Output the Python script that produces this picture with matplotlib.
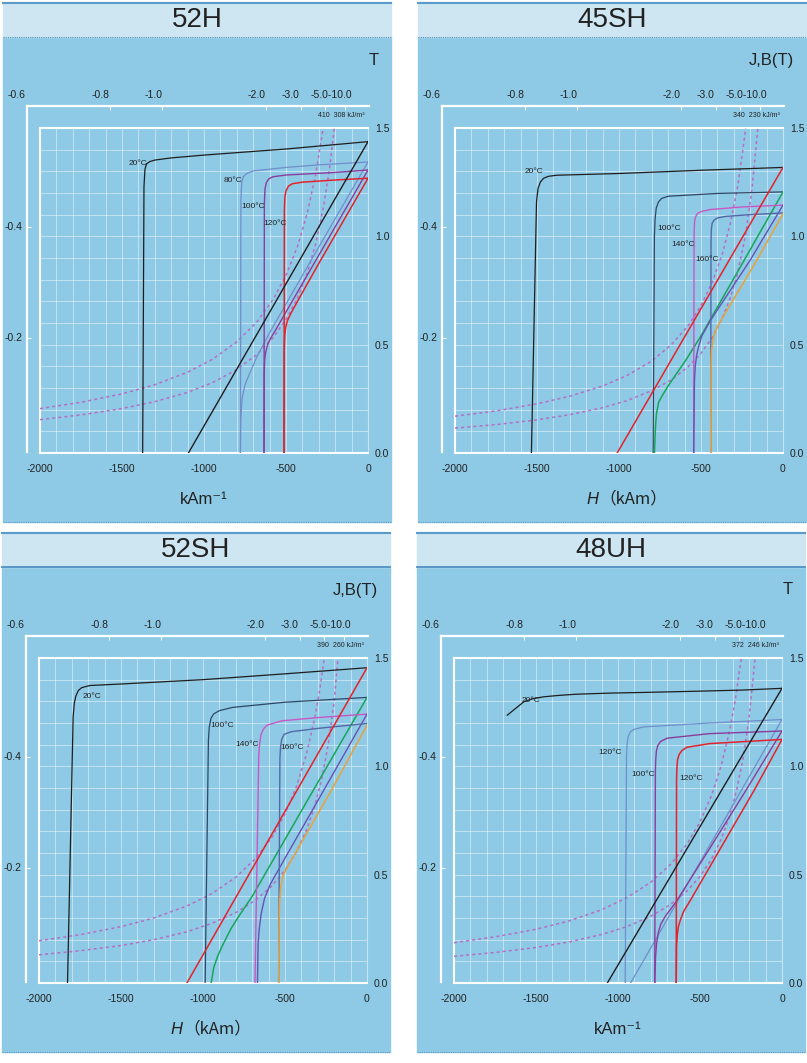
import matplotlib.pyplot as plt
from matplotlib.patches import Rectangle
from matplotlib.lines import Line2D

# ---------------- 52H ----------------
g52h_j20_h = [0, -500, -1000, -1200, -1300, -1330, -1350, -1360, -1366, -1370, -1374]
g52h_j20_b = [1.437, 1.403, 1.375, 1.362, 1.352, 1.345, 1.335, 1.31, 1.23, 0.6, 0.0]
g52h_b20_h = [0, -1095]
g52h_b20_b = [1.437, 0.0]
g52h_j80_h = [0, -300, -500, -700, -740, -760, -770, -775, -778]
g52h_j80_b = [1.343, 1.33, 1.318, 1.302, 1.29, 1.275, 1.25, 1.17, 0.0]
g52h_b80_h = [0, -400, -600, -680, -720, -750, -768, -776, -778]
g52h_b80_b = [1.343, 0.82, 0.555, 0.44, 0.37, 0.315, 0.25, 0.15, 0.0]
g52h_j100_h = [0, -200, -500, -580, -605, -620, -628, -632, -634]
g52h_j100_b = [1.306, 1.295, 1.283, 1.275, 1.265, 1.248, 1.22, 1.15, 0.0]
g52h_b100_h = [0, -400, -560, -595, -612, -624, -630, -633, -634]
g52h_b100_b = [1.306, 0.782, 0.572, 0.528, 0.5, 0.465, 0.43, 0.37, 0.0]
g52h_j120_h = [0, -200, -400, -460, -485, -500, -507, -510, -512]
g52h_j120_b = [1.268, 1.26, 1.25, 1.243, 1.232, 1.21, 1.18, 1.12, 0.0]
g52h_b120_h = [0, -300, -430, -470, -492, -503, -508, -511, -512]
g52h_b120_b = [1.268, 0.875, 0.7, 0.645, 0.61, 0.575, 0.54, 0.47, 0.0]
g52h_e1_h = [-2000, -1750, -1500, -1300, -1100, -950, -800, -680, -580, -500, -430, -370, -320, -273]
g52h_e1_b = [0.205, 0.234, 0.273, 0.315, 0.373, 0.432, 0.513, 0.603, 0.707, 0.82, 0.953, 1.108, 1.281, 1.502]
g52h_e2_h = [-2000, -1750, -1500, -1300, -1100, -950, -800, -680, -580, -500, -430, -370, -320, -270, -235, -205]
g52h_e2_b = [0.154, 0.176, 0.205, 0.237, 0.28, 0.324, 0.385, 0.453, 0.531, 0.616, 0.716, 0.832, 0.963, 1.141, 1.311, 1.502]
g52h_temps = ['20°C', '80°C', '100°C', '120°C']
g52h_temp_h = [-1402, -826, -701, -567]
g52h_temp_b = [1.334, 1.259, 1.14, 1.06]

# ---------------- 45SH ----------------
g45sh_j20_h = [0, -500, -1000, -1380, -1430, -1460, -1480, -1494, -1503, -1534]
g45sh_j20_b = [1.318, 1.305, 1.29, 1.282, 1.277, 1.268, 1.25, 1.22, 1.16, 0.0]
g45sh_b20_h = [0, -1011]
g45sh_b20_b = [1.318, 0.0]
g45sh_j100_h = [0, -400, -700, -740, -760, -773, -780, -784, -792]
g45sh_j100_b = [1.205, 1.198, 1.185, 1.175, 1.158, 1.13, 1.08, 1.0, 0.0]
g45sh_b100_h = [0, -250, -505, -600, -646, -700, -740, -758, -772, -778, -784]
g45sh_b100_b = [1.205, 0.872, 0.534, 0.42, 0.37, 0.31, 0.26, 0.235, 0.179, 0.117, 0.0]
g45sh_j140_h = [0, -240, -440, -500, -522, -533, -539, -542, -545]
g45sh_j140_b = [1.144, 1.136, 1.124, 1.114, 1.105, 1.09, 1.07, 1.02, 0.0]
g45sh_b140_h = [0, -201, -444, -495, -515, -527, -535, -540, -544]
g45sh_b140_b = [1.144, 0.889, 0.61, 0.54, 0.49, 0.45, 0.40, 0.33, 0.0]
g45sh_j160_h = [0, -200, -350, -400, -420, -432, -437, -439, -441]
g45sh_j160_b = [1.108, 1.1, 1.092, 1.085, 1.075, 1.06, 1.03, 0.97, 0.0]
g45sh_b160_h = [0, -160, -380, -405, -420, -430, -436, -439, -441]
g45sh_b160_b = [1.105, 0.889, 0.61, 0.575, 0.545, 0.51, 0.47, 0.41, 0.0]
g45sh_e1_h = [-2000, -1750, -1500, -1300, -1100, -950, -800, -680, -580, -500, -430, -370, -320, -275, -227]
g45sh_e1_b = [0.17, 0.194, 0.227, 0.262, 0.309, 0.358, 0.425, 0.5, 0.586, 0.68, 0.791, 0.919, 1.063, 1.236, 1.498]
g45sh_e2_h = [-2000, -1750, -1500, -1300, -1100, -950, -800, -680, -580, -500, -430, -370, -320, -275, -230, -190, -153]
g45sh_e2_b = [0.115, 0.131, 0.153, 0.177, 0.209, 0.242, 0.288, 0.338, 0.397, 0.46, 0.535, 0.622, 0.719, 0.836, 1.0, 1.211, 1.503]
g45sh_temps = ['20°C', '100°C', '140°C', '160°C']
g45sh_temp_h = [-1521, -697, -608, -462]
g45sh_temp_b = [1.298, 1.038, 0.963, 0.892]

# ---------------- 52SH ----------------
g52sh_j20_h = [0, -500, -1000, -1500, -1690, -1740, -1760, -1775, -1785, -1792, -1826]
g52sh_j20_b = [1.455, 1.427, 1.40, 1.38, 1.373, 1.363, 1.35, 1.325, 1.29, 1.226, 0.0]
g52sh_b20_h = [0, -1098]
g52sh_b20_b = [1.455, 0.0]
g52sh_j100_h = [0, -500, -820, -900, -935, -952, -962, -967, -987]
g52sh_j100_b = [1.318, 1.296, 1.272, 1.257, 1.242, 1.22, 1.18, 1.12, 0.0]
g52sh_b100_h = [0, -350, -700, -780, -830, -880, -910, -935, -950]
g52sh_b100_b = [1.318, 0.86, 0.40, 0.31, 0.25, 0.175, 0.125, 0.07, 0.0]
g52sh_j140_h = [0, -300, -520, -610, -632, -647, -655, -660, -683]
g52sh_j140_b = [1.241, 1.225, 1.21, 1.19, 1.172, 1.145, 1.10, 1.05, 0.0]
g52sh_b140_h = [0, -250, -500, -590, -625, -645, -657, -664, -668]
g52sh_b140_b = [1.241, 0.908, 0.576, 0.455, 0.39, 0.32, 0.25, 0.18, 0.0]
g52sh_j160_h = [0, -300, -460, -505, -520, -527, -531, -539]
g52sh_j160_b = [1.198, 1.175, 1.16, 1.148, 1.125, 1.09, 1.04, 0.0]
g52sh_b160_h = [0, -220, -454, -494, -515, -527, -533, -536, -539]
g52sh_b160_b = [1.19, 0.886, 0.577, 0.523, 0.49, 0.44, 0.37, 0.30, 0.0]
g52sh_e1_h = [-2000, -1750, -1500, -1300, -1100, -950, -800, -680, -580, -500, -430, -370, -320, -290, -260]
g52sh_e1_b = [0.195, 0.223, 0.26, 0.3, 0.355, 0.411, 0.488, 0.574, 0.672, 0.78, 0.907, 1.054, 1.219, 1.345, 1.5]
g52sh_e2_h = [-2000, -1750, -1500, -1300, -1100, -950, -800, -680, -580, -500, -430, -370, -320, -275, -235, -200, -178]
g52sh_e2_b = [0.13, 0.149, 0.173, 0.2, 0.236, 0.274, 0.325, 0.382, 0.448, 0.52, 0.605, 0.703, 0.813, 0.945, 1.106, 1.3, 1.494]
g52sh_temps = ['20°C', '100°C', '140°C', '160°C']
g52sh_temp_h = [-1677, -883, -733, -456]
g52sh_temp_b = [1.321, 1.19, 1.102, 1.086]

# ---------------- 48UH ----------------
g48uh_j20_h = [-1675, -1620, -1574, -1520, -1453, -1350, -1250, -1050, -847, -500, -241, 0]
g48uh_j20_b = [1.236, 1.27, 1.298, 1.312, 1.321, 1.328, 1.333, 1.338, 1.341, 1.347, 1.352, 1.36]
g48uh_b20_h = [0, -1065]
g48uh_b20_b = [1.36, 0.0]
g48uh_ja_h = [0, -440, -845, -905, -925, -938, -945, -948, -956]
g48uh_ja_b = [1.216, 1.2, 1.182, 1.17, 1.158, 1.138, 1.10, 1.05, 0.0]
g48uh_ba_h = [0, -923]
g48uh_ba_b = [1.216, 0.0]
g48uh_j100_h = [0, -440, -700, -740, -758, -766, -770, -772, -776]
g48uh_j100_b = [1.163, 1.151, 1.13, 1.115, 1.095, 1.07, 1.03, 0.98, 0.0]
g48uh_b100_h = [0, -220, -450, -650, -710, -740, -755, -765, -771, -776]
g48uh_b100_b = [1.163, 0.889, 0.61, 0.37, 0.31, 0.27, 0.23, 0.18, 0.12, 0.0]
g48uh_j120_h = [0, -440, -580, -610, -627, -637, -641, -643, -645]
g48uh_j120_b = [1.124, 1.105, 1.088, 1.073, 1.055, 1.03, 0.99, 0.94, 0.0]
g48uh_b120_h = [0, -170, -560, -600, -620, -632, -639, -643, -645]
g48uh_b120_b = [1.124, 0.889, 0.38, 0.33, 0.29, 0.26, 0.22, 0.17, 0.0]
g48uh_e1_h = [-2000, -1750, -1500, -1300, -1100, -950, -800, -680, -580, -500, -430, -370, -320, -285, -248]
g48uh_e1_b = [0.186, 0.213, 0.248, 0.286, 0.338, 0.392, 0.465, 0.547, 0.641, 0.744, 0.865, 1.005, 1.163, 1.305, 1.5]
g48uh_e2_h = [-2000, -1750, -1500, -1300, -1100, -950, -800, -680, -580, -500, -430, -370, -320, -275, -235, -200, -164]
g48uh_e2_b = [0.123, 0.141, 0.164, 0.189, 0.224, 0.259, 0.308, 0.362, 0.424, 0.492, 0.572, 0.665, 0.769, 0.895, 1.047, 1.23, 1.5]
g48uh_temps = ['20°C', '120°C', '100°C', '120°C']
g48uh_temp_h = [-1530, -1047, -844, -552]
g48uh_temp_b = [1.306, 1.062, 0.962, 0.946]

# axis tick labels
x_ticks = [-2000, -1500, -1000, -500, 0]
y_ticks = [0.0, 0.5, 1.0, 1.5]
pc_labels = ['-0.6', '-0.8', '-1.0', '-2.0', '-3.0', '-5.0-10.0']
left_labels = ['-0.4', '-0.2']

# colours
bg = '#8ecae5'
hdr = '#cde6f1'
c_black = '#1e1e1e'
c_steel = '#6f8fca'
c_purple = '#8a3d9c'
c_red = '#e3232b'
c_navy = '#2c4866'
c_green = '#16a65a'
c_pink = '#c957c4'
c_violet = '#6553b5'
c_slate = '#5468a8'
c_orange = '#e9a23b'
c_dot = '#b46fc4'
txt = '#222222'

W, H = 807, 1063
plt.rcParams['font.family'] = ['Liberation Sans', 'DejaVu Sans']
fig = plt.figure(figsize=(W / 100, H / 100), dpi=100)
fig.patch.set_facecolor('white')


def fx(x):
    return x / W


def fy(y):
    return 1 - y / H


def px_axes(x, y, w, h):
    return fig.add_axes([fx(x), fy(y + h), w / W, h / H])


def draw_panel(pl, pt, title, unit, italic_h, solid_hdr, curves, dots, elabel, temps):
    pw, ph = 388, 520
    # backgrounds
    fig.add_artist(Rectangle((fx(pl), fy(pt + ph)), pw / W, (ph - 35) / H,
                             transform=fig.transFigure, color=bg, zorder=0))
    fig.add_artist(Rectangle((fx(pl), fy(pt + 35)), pw / W, 35 / H,
                             transform=fig.transFigure, color=hdr, zorder=0))
    fig.add_artist(Line2D([fx(pl), fx(pl + pw)], [fy(pt + 0.5)] * 2,
                          transform=fig.transFigure, color='#5b9bcb', lw=1.5))
    fig.add_artist(Line2D([fx(pl), fx(pl + pw)], [fy(pt + 35)] * 2,
                          transform=fig.transFigure, color='#4f8fc2',
                          lw=1.3 if solid_hdr else 0.8,
                          ls='-' if solid_hdr else (0, (1, 1))))
    fig.add_artist(Line2D([fx(pl), fx(pl + pw)], [fy(pt + ph)] * 2,
                          transform=fig.transFigure, color='#5a9bc9', lw=0.8, ls=(0, (1, 1))))
    fig.text(fx(pl + pw / 2), fy(pt + 18), title, ha='center', va='center',
             fontsize=20, color=txt)

    # outer permeance frame
    fa = px_axes(pl + 24, pt + 104, 342, 346)
    fa.patch.set_visible(False)
    fa.set_xlim(0, 1)
    fa.set_ylim(0, 1)
    for s in ['right', 'bottom']:
        fa.spines[s].set_visible(False)
    for s in ['top', 'left']:
        fa.spines[s].set_color('white')
        fa.spines[s].set_linewidth(1.6)
    fa.xaxis.tick_top()
    fa.set_xticks([0.243, 0.396, 0.698, 0.8, 0.87, 0.93])
    fa.set_yticks([0.65, 0.33])
    fa.tick_params(axis='both', direction='in', length=3, width=0.8, color='white',
                   labelleft=False, labeltop=False, labelbottom=False)
    for lab, xp in zip(pc_labels, [-0.032, 0.214, 0.37, 0.672, 0.771, 0.891]):
        fa.text(xp, 1.032, lab, transform=fa.transAxes, ha='center', va='center',
                fontsize=7.5, color=txt)
    for lab, yp in zip(left_labels, [0.65, 0.33]):
        fa.text(-0.012, yp, lab, transform=fa.transAxes, ha='right', va='center',
                fontsize=7.5, color=txt)

    # main B-H axes
    ax = px_axes(pl + 37, pt + 126, 328, 325)
    ax.patch.set_visible(False)
    ax.set_xlim(-2000, 0)
    ax.set_ylim(0, 1.5)
    ax.set_xticks(x_ticks)
    ax.set_xticklabels([str(v) for v in x_ticks])
    ax.set_xticks(range(-2000, 1, 100), minor=True)
    ax.yaxis.tick_right()
    ax.set_yticks(y_ticks)
    ax.set_yticklabels(['%.1f' % v for v in y_ticks])
    ax.set_yticks([i / 10 for i in range(16)], minor=True)
    ax.grid(which='both', color='white', alpha=0.45, lw=0.7)
    ax.tick_params(which='both', length=0, labelsize=7.5, colors=txt)
    ax.tick_params(axis='x', pad=8)
    ax.tick_params(axis='y', pad=5)
    for s in ['left', 'bottom', 'top']:
        ax.spines[s].set_color('white')
        ax.spines[s].set_linewidth(1.5)
    ax.spines['right'].set_color('white')
    ax.spines['right'].set_alpha(0.5)
    ax.spines['right'].set_linewidth(0.8)

    for hh, bb in dots:
        ax.plot(hh, bb, color=c_dot, lw=1.1, ls=(0, (2, 2)), zorder=3)
    for hh, bb, col, lw in curves:
        ax.plot(hh, bb, color=col, lw=lw, zorder=4, solid_joinstyle='round')
    ax.text(0.99, 1.037, elabel, transform=ax.transAxes, ha='right', va='center',
            fontsize=5, color=txt)
    names, th, tb = temps
    for n, hv, bv in zip(names, th, tb):
        ax.text(hv, bv, n, ha='center', va='center', fontsize=6, color=txt, zorder=5)

    # unit labels
    fig.text(fx(pl + 376), fy(pt + 58), unit, ha='right', va='center', fontsize=12, color=txt)
    if italic_h:
        fig.text(fx(pl + 180), fy(pt + 497), 'H', ha='right', va='center', fontsize=12,
                 style='italic', color=txt)
        fig.text(fx(pl + 181), fy(pt + 497), '（kAm）', ha='left', va='center', fontsize=12,
                 color=txt, family=['Noto Sans CJK SC', 'DejaVu Sans'])
    else:
        fig.text(fx(pl + 201), fy(pt + 497), 'kAm⁻¹', ha='center', va='center',
                 fontsize=12, color=txt)


draw_panel(3, 2, '52H', 'T', False, False,
           [(g52h_b80_h, g52h_b80_b, c_steel, 0.9),
            (g52h_j80_h, g52h_j80_b, c_steel, 0.9),
            (g52h_b100_h, g52h_b100_b, c_purple, 1.0),
            (g52h_j100_h, g52h_j100_b, c_purple, 1.0),
            (g52h_b120_h, g52h_b120_b, c_red, 1.1),
            (g52h_j120_h, g52h_j120_b, c_red, 1.1),
            (g52h_j20_h, g52h_j20_b, c_black, 0.9),
            (g52h_b20_h, g52h_b20_b, c_black, 1.0)],
           [(g52h_e1_h, g52h_e1_b), (g52h_e2_h, g52h_e2_b)],
           '410  308 kJ/m³', (g52h_temps, g52h_temp_h, g52h_temp_b))

draw_panel(418, 2, '45SH', 'J,B(T)', True, False,
           [(g45sh_j20_h, g45sh_j20_b, c_black, 0.9),
            (g45sh_j100_h, g45sh_j100_b, c_navy, 0.9),
            (g45sh_b100_h, g45sh_b100_b, c_green, 1.1),
            (g45sh_j140_h, g45sh_j140_b, c_pink, 1.0),
            (g45sh_b140_h, g45sh_b140_b, c_violet, 1.0),
            (g45sh_j160_h, g45sh_j160_b, c_slate, 1.0),
            (g45sh_b160_h, g45sh_b160_b, c_orange, 1.1),
            (g45sh_b20_h, g45sh_b20_b, c_red, 1.1)],
           [(g45sh_e1_h, g45sh_e1_b), (g45sh_e2_h, g45sh_e2_b)],
           '340  230 kJ/m³', (g45sh_temps, g45sh_temp_h, g45sh_temp_b))

draw_panel(2, 532, '52SH', 'J,B(T)', True, True,
           [(g52sh_j20_h, g52sh_j20_b, c_black, 0.9),
            (g52sh_j100_h, g52sh_j100_b, c_navy, 0.9),
            (g52sh_b100_h, g52sh_b100_b, c_green, 1.1),
            (g52sh_j140_h, g52sh_j140_b, c_pink, 1.0),
            (g52sh_b140_h, g52sh_b140_b, c_violet, 1.0),
            (g52sh_j160_h, g52sh_j160_b, c_slate, 1.0),
            (g52sh_b160_h, g52sh_b160_b, c_orange, 1.1),
            (g52sh_b20_h, g52sh_b20_b, c_red, 1.1)],
           [(g52sh_e1_h, g52sh_e1_b), (g52sh_e2_h, g52sh_e2_b)],
           '390  260 kJ/m³', (g52sh_temps, g52sh_temp_h, g52sh_temp_b))

draw_panel(417, 532, '48UH', 'T', False, True,
           [(g48uh_ba_h, g48uh_ba_b, c_steel, 0.9),
            (g48uh_ja_h, g48uh_ja_b, c_steel, 0.9),
            (g48uh_b100_h, g48uh_b100_b, c_purple, 1.0),
            (g48uh_j100_h, g48uh_j100_b, c_purple, 1.0),
            (g48uh_b120_h, g48uh_b120_b, c_red, 1.1),
            (g48uh_j120_h, g48uh_j120_b, c_red, 1.1),
            (g48uh_j20_h, g48uh_j20_b, c_black, 0.9),
            (g48uh_b20_h, g48uh_b20_b, c_black, 1.0)],
           [(g48uh_e1_h, g48uh_e1_b), (g48uh_e2_h, g48uh_e2_b)],
           '372  246 kJ/m³', (g48uh_temps, g48uh_temp_h, g48uh_temp_b))

fig.savefig('out.png', dpi=100, facecolor=fig.get_facecolor())
